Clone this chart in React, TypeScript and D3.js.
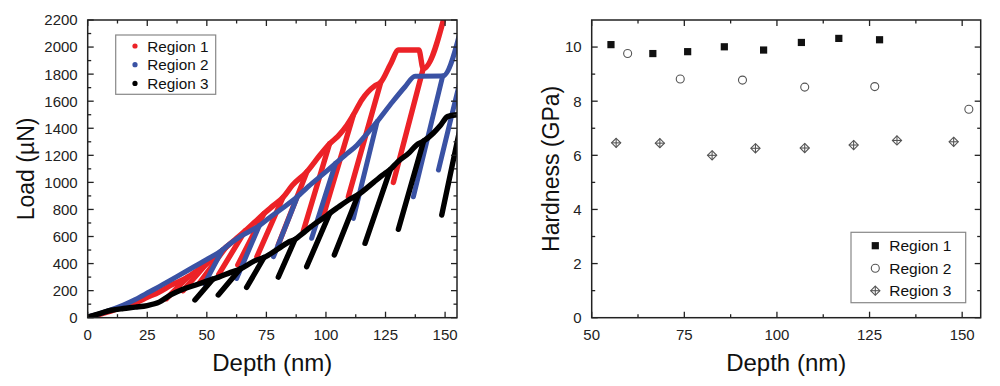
import React from "react";
import * as d3 from "d3";

// ---------- Left chart: load-depth curves ----------
// envelope points: [depth (nm), load (µN)]
const region1Envelope: [number, number][] = [
  [0, 3], [5, 25], [10, 50], [15, 80], [20, 110], [25, 150], [30, 190], [35, 240],
  [42, 300], [46, 350], [50, 400], [54, 460], [58, 520], [62, 580], [66, 640],
  [70, 705], [74, 770], [78, 830], [82, 890], [86, 980], [92, 1079], [97.5, 1202],
  [101.5, 1285], [105, 1340], [108.7, 1420], [111.5, 1498], [115, 1609], [120.6, 1715],
  [123, 1740], [127, 1870], [130.5, 1978], [139, 1978], [140.8, 1840], [150.5, 2280],
];
// cycles: [minDepth, minLoad, peakDepth, peakLoad]
const region1Cycles: [number, number, number, number][] = [
  [33, 140, 42, 300], [40, 200, 50, 400], [47, 260, 58, 520], [55, 320, 66, 640],
  [63, 390, 74, 770], [71, 450, 82, 890], [80, 540, 92, 1079], [90.5, 640, 101.5, 1285],
  [99, 760, 111.5, 1498], [109.4, 894, 123, 1740], [128.3, 1000, 140.8, 1840],
];

const region2Envelope: [number, number][] = [
  [0, 5], [5, 30], [10, 60], [15, 94], [20, 135], [26, 192], [30, 230], [37.4, 303],
  [45, 380], [50, 430], [56.5, 500], [60, 550], [64, 599], [72, 680], [76, 735],
  [80.7, 796], [88, 894], [92, 960], [97.5, 1042], [104, 1140], [108, 1200], [113, 1275],
  [117, 1355], [121.5, 1450], [126.9, 1572], [133.2, 1707], [137.4, 1785],
  [149, 1786], [157, 2160],
];
const region2Cycles: [number, number, number, number][] = [
  [49, 250, 56.5, 500], [62.5, 290, 72, 680], [78, 451, 88, 894], [94, 587, 104, 1140],
  [111.5, 734, 121.5, 1450], [136.7, 894, 149, 1786], [147.2, 1091, 157, 1800],
];

const region3Envelope: [number, number][] = [
  [0, 5], [5, 30], [10, 55], [15, 68], [20, 78], [25, 90], [30, 115], [35, 170],
  [40, 210], [45, 240], [50, 270], [52.5, 285], [55, 300], [60, 335], [64, 360],
  [70, 420], [74, 445], [80, 510], [85, 565], [87, 578],
  [90, 620], [95, 690], [100, 750], [101.6, 772], [105, 815], [110, 875], [113.6, 910],
  [120, 1000], [125, 1070], [127, 1095], [130, 1150], [135, 1220],
  [138, 1276], [141, 1305], [145, 1363], [148, 1420], [151, 1486], [155, 1500],
];
const region3Cycles: [number, number, number, number][] = [
  [45, 131, 52.5, 285], [54.8, 168, 64, 360], [66.7, 224, 74, 445], [80, 300, 87, 578],
  [91.9, 377, 101.6, 772], [103.5, 463, 113.6, 910], [116.4, 550, 127, 1095],
  [130.4, 653, 141, 1305], [148.6, 759, 157, 1460],
];

const loadXTicks = [0, 25, 50, 75, 100, 125, 150];
const loadXMinor = [12.5, 37.5, 62.5, 87.5, 112.5, 137.5];
const loadYTicks = [0, 200, 400, 600, 800, 1000, 1200, 1400, 1600, 1800, 2000, 2200];
const loadYMinor = [100, 300, 500, 700, 900, 1100, 1300, 1500, 1700, 1900, 2100];

// ---------- Right chart: hardness ----------
const hardDepth1 = [55.2, 66.5, 75.9, 85.8, 96.4, 106.6, 116.7, 127.7];
const hardness1 = [10.09, 9.76, 9.83, 10.01, 9.89, 10.17, 10.32, 10.27];
const hardDepth2 = [59.7, 73.9, 90.7, 107.5, 126.4, 151.8];
const hardness2 = [9.76, 8.82, 8.78, 8.52, 8.54, 7.7];
const hardDepth3 = [56.6, 68.4, 82.5, 94.2, 107.5, 120.7, 132.4, 147.7];
const hardness3 = [6.46, 6.45, 6.0, 6.26, 6.27, 6.38, 6.55, 6.5];

const hardXTicks = [50, 75, 100, 125, 150];
const hardXMinor = [62.5, 87.5, 112.5, 137.5];
const hardYTicks = [0, 2, 4, 6, 8, 10];
const hardYMinor = [1, 3, 5, 7, 9];

const seriesNames = ["Region 1", "Region 2", "Region 3"];
const curveColors = ["#ec2227", "#3a52a4", "#000000"];

const FONT = "'Liberation Sans', Arial, Helvetica, sans-serif";
const AX = "#222";

type Sc = d3.ScaleLinear<number, number>;

function Frame({ x, y, xt, xm, yt, ym }: { x: Sc; y: Sc; xt: number[]; xm: number[]; yt: number[]; ym: number[] }) {
  const [x0, x1] = x.range();
  const [y0, y1] = y.range(); // y0 bottom, y1 top
  const maj = 6, min = 3.5;
  return (
    <g>
      {xt.map((v) => (
        <g key={"xt" + v}>
          <line x1={x(v)} x2={x(v)} y1={y0} y2={y0 - maj} stroke={AX} strokeWidth={1.3} />
          <line x1={x(v)} x2={x(v)} y1={y1} y2={y1 + maj} stroke={AX} strokeWidth={1.3} />
          <text x={x(v)} y={y0 + 22} textAnchor="middle" fontSize={15} fontFamily={FONT} fill={AX}>{v}</text>
        </g>
      ))}
      {xm.map((v) => (
        <g key={"xm" + v}>
          <line x1={x(v)} x2={x(v)} y1={y0} y2={y0 - min} stroke={AX} strokeWidth={1.3} />
          <line x1={x(v)} x2={x(v)} y1={y1} y2={y1 + min} stroke={AX} strokeWidth={1.3} />
        </g>
      ))}
      {yt.map((v) => (
        <g key={"yt" + v}>
          <line x1={x0} x2={x0 + maj} y1={y(v)} y2={y(v)} stroke={AX} strokeWidth={1.3} />
          <line x1={x1} x2={x1 - maj} y1={y(v)} y2={y(v)} stroke={AX} strokeWidth={1.3} />
          <text x={x0 - 10} y={y(v) + 5.4} textAnchor="end" fontSize={15} fontFamily={FONT} fill={AX}>{v}</text>
        </g>
      ))}
      {ym.map((v) => (
        <g key={"ym" + v}>
          <line x1={x0} x2={x0 + min} y1={y(v)} y2={y(v)} stroke={AX} strokeWidth={1.3} />
          <line x1={x1} x2={x1 - min} y1={y(v)} y2={y(v)} stroke={AX} strokeWidth={1.3} />
        </g>
      ))}
      <rect x={x0} y={y1} width={x1 - x0} height={y0 - y1} fill="none" stroke={AX} strokeWidth={1.5} />
    </g>
  );
}

export default function App() {
  const xL = d3.scaleLinear().domain([0, 155]).range([87.7, 457]);
  const yL = d3.scaleLinear().domain([0, 2200]).range([317.7, 20]);
  const xR = d3.scaleLinear().domain([50, 155]).range([591.7, 980.7]);
  const yR = d3.scaleLinear().domain([0, 11]).range([317.7, 20]);

  const envLine = d3.line<[number, number]>().x((d) => xL(d[0])).y((d) => yL(d[1])).curve(d3.curveMonotoneX);
  const line = d3.line<[number, number]>().x((d) => xL(d[0])).y((d) => yL(d[1]));
  const regions = [
    { env: region1Envelope, cyc: region1Cycles, w: 5.4 },
    { env: region2Envelope, cyc: region2Cycles, w: 5 },
    { env: region3Envelope, cyc: region3Cycles, w: 5.4 },
  ];

  const hard = [
    { xs: hardDepth1, ys: hardness1 },
    { xs: hardDepth2, ys: hardness2 },
    { xs: hardDepth3, ys: hardness3 },
  ];

  const marker = (k: number, cx: number, cy: number, key: string) => {
    if (k === 0) return <rect key={key} x={cx - 3.6} y={cy - 3.6} width={7.2} height={7.2} fill="#111" />;
    if (k === 1) return <circle key={key} cx={cx} cy={cy} r={4} fill="#fff" stroke="#555" strokeWidth={1.1} />;
    const s = 4.6;
    return (
      <g key={key} stroke="#555" strokeWidth={1.1} fill="#fff">
        <path d={`M${cx},${cy - s}L${cx + s},${cy}L${cx},${cy + s}L${cx - s},${cy}Z`} />
        <line x1={cx - s} x2={cx + s} y1={cy} y2={cy} />
        <line x1={cx} x2={cx} y1={cy - s} y2={cy + s} />
      </g>
    );
  };

  return (
    <svg width={1000} height={386} style={{ position: "absolute", left: 0, top: 0, background: "#fff" }}>
      <defs>
        <clipPath id="clipL">
          <rect x={87.7} y={20} width={457 - 87.7} height={317.7 - 20} />
        </clipPath>
      </defs>
      {/* Left chart */}
      <g clipPath="url(#clipL)">
        {regions.map((r, i) => (
          <g key={i} stroke={curveColors[i]} strokeWidth={r.w} fill="none" strokeLinecap="round" strokeLinejoin="round">
            <path d={envLine(r.env) || ""} />
            {r.cyc.map((c, j) => (
              <path key={j} d={line([[c[0], c[1]], [c[2], c[3]]]) || ""} />
            ))}
          </g>
        ))}
      </g>
      <Frame x={xL} y={yL} xt={loadXTicks} xm={loadXMinor} yt={loadYTicks} ym={loadYMinor} />
      <text x={272.3} y={371} textAnchor="middle" fontSize={24} fontFamily={FONT} fill="#111">Depth (nm)</text>
      <text transform="translate(33.5,168.9) rotate(-90)" textAnchor="middle" fontSize={23} fontFamily={FONT} fill="#111">Load (µN)</text>
      <g>
        <rect x={115.7} y={35} width={100} height={59.3} fill="#fff" stroke="#888" strokeWidth={1.2} />
        {seriesNames.map((n, i) => (
          <g key={n}>
            <circle cx={135} cy={46 + i * 18.7} r={2.6} fill={curveColors[i]} />
            <text x={147.3} y={51.6 + i * 18.8} fontSize={15.3} fontFamily={FONT} fill="#111">{n}</text>
          </g>
        ))}
      </g>

      {/* Right chart */}
      <Frame x={xR} y={yR} xt={hardXTicks} xm={hardXMinor} yt={hardYTicks} ym={hardYMinor} />
      {hard.map((s, k) => (
        <g key={k}>{s.xs.map((v, j) => marker(k, xR(v), yR(s.ys[j]), k + "-" + j))}</g>
      ))}
      <text x={786.2} y={371} textAnchor="middle" fontSize={24} fontFamily={FONT} fill="#111">Depth (nm)</text>
      <text transform="translate(558.5,168.9) rotate(-90)" textAnchor="middle" fontSize={23} fontFamily={FONT} fill="#111">Hardness (GPa)</text>
      <g>
        <rect x={851} y={232.3} width={114.7} height={70.4} fill="#fff" stroke="#888" strokeWidth={1.2} />
        {seriesNames.map((n, i) => (
          <g key={n}>
            {marker(i, 875.3, 245.7 + i * 22.5, "lg" + i)}
            <text x={889.3} y={251.4 + i * 22.5} fontSize={15.5} fontFamily={FONT} fill="#111">{n}</text>
          </g>
        ))}
      </g>
    </svg>
  );
}
